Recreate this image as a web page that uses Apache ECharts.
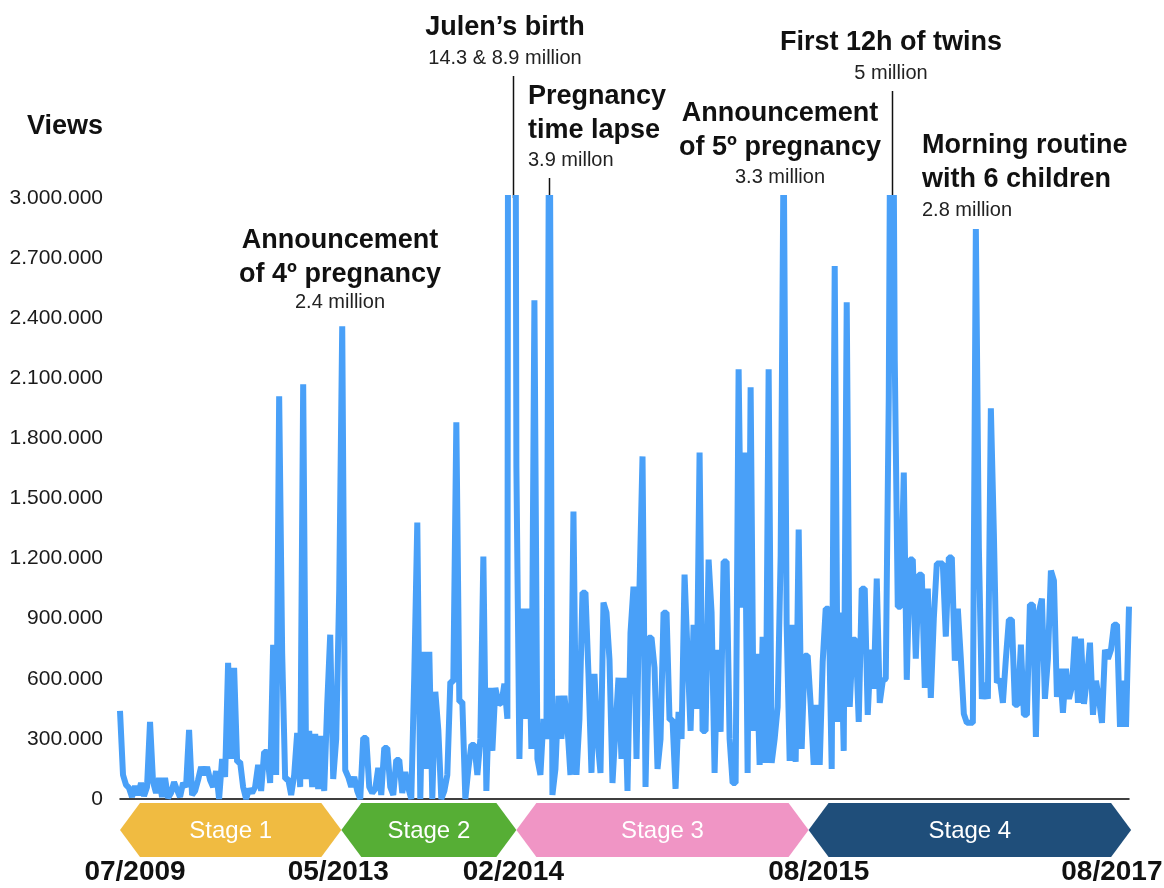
<!DOCTYPE html>
<html>
<head>
<meta charset="utf-8">
<script src="https://cdn.jsdelivr.net/npm/echarts@6/dist/echarts.min.js"></script>
<style>
html,body{margin:0;padding:0;background:#fff;}
#c{width:1164px;height:888px;}
</style>
</head>
<body>
<div id="c"></div>
<script>
// Views per video, in thousands (values above 3.000 are clipped at the chart top)
const viewsK = [
 440,120,70,55,10,65,20,80,15,60,
 385,85,30,105,10,105,5,30,85,45,
 10,80,60,345,20,40,95,160,120,160,
 95,60,140,0,200,110,680,200,655,185,
 185,60,0,50,30,60,170,40,235,235,
 80,770,120,2010,730,100,100,20,120,330,
 60,2070,100,340,60,325,50,315,40,470,
 820,100,300,1040,2360,145,110,60,110,40,
 0,305,305,60,30,50,155,20,255,255,
 60,20,195,195,30,135,55,0,620,1380,
 0,735,150,735,0,535,345,0,40,120,
 585,585,1880,485,485,0,150,270,270,120,
 300,1210,40,555,240,555,480,475,575,400,
 14300,8900,1660,200,950,400,950,250,2490,200,
 120,400,300,3900,20,150,515,300,515,360,
 120,1435,120,400,1030,1030,625,130,625,300,
 130,980,930,695,80,350,605,200,605,40,
 830,1060,200,1060,1710,60,805,805,655,150,
 300,930,930,395,395,50,435,300,1120,725,
 340,870,450,1730,340,340,1195,930,130,745,
 335,1185,1185,300,80,80,2145,955,1730,130,
 2055,340,725,170,810,180,2145,180,300,460,
 1215,3300,870,190,870,185,1345,250,715,715,
 470,170,470,170,685,950,950,150,2660,385,
 930,240,2480,460,795,795,385,1050,1050,420,
 745,550,1100,480,590,600,2000,5000,2185,960,
 960,1630,595,1195,1195,700,1120,1120,555,1050,
 505,900,1175,1175,1175,810,1205,1205,690,950,
 700,425,380,380,380,2845,1255,500,580,500,
 1950,1325,580,600,480,700,895,895,470,470,
 770,420,420,970,970,310,935,1000,500,700,
 1140,1090,510,650,430,650,500,560,810,480,
 800,475,600,780,420,590,500,380,745,700,
 745,870,870,360,590,360,960
];
const videoNo = viewsK.map((_, i) => String(i + 1));

const yMaxK = 3000;
const yStepK = 300;

// Stages (in video-index units)
const stageNames = ['Stage 1', 'Stage 2', 'Stage 3', 'Stage 4'];
const stageStart = [0, 73.7, 132, 229.3];
const stageEnd = [73.7, 132, 229.3, 336.7];
const stageColors = ['#f0bb41', '#56ae35', '#f095c5', '#1f4e7a'];

// Date labels under the stages
const dateLabels = ['07/2009', '05/2013', '02/2014', '08/2015', '08/2017'];
const dateIdx = [5, 72.7, 131, 232.7, 330.3];

// Annotations
const annTitles = [
  ['Announcement', 'of 4º pregnancy'],
  ['Julen’s birth'],
  ['Pregnancy', 'time lapse'],
  ['Announcement', 'of 5º pregnancy'],
  ['First 12h of twins'],
  ['Morning routine', 'with 6 children']
];
const annSubs = ['2.4 million', '14.3 & 8.9 million', '3.9 millon', '3.3 million', '5 million', '2.8 million'];
const leaderIdx = [null, 131, 143, null, 257, null];

const FONT = '"Liberation Sans", Arial, Helvetica, sans-serif';

function fmtK(v) {
  const n = Math.round(v * 1000);
  return String(n).replace(/\B(?=(\d{3})+(?!\d))/g, '.');
}

const chart = echarts.init(document.getElementById('c'), null, {renderer: 'canvas'});
chart.setOption({
  animation: false,
  backgroundColor: '#fff',
  grid: {left: 120, right: 35, top: 198, bottom: 89, containLabel: false},
  xAxis: {
    type: 'category',
    data: videoNo,
    boundaryGap: false,
    axisLine: {lineStyle: {color: '#000', width: 1.5}},
    axisTick: {show: false},
    axisLabel: {show: false},
    splitLine: {show: false}
  },
  yAxis: {
    type: 'value',
    min: 0,
    max: yMaxK,
    interval: yStepK,
    axisLine: {show: false},
    axisTick: {show: false},
    splitLine: {show: false},
    axisLabel: {
      formatter: fmtK,
      fontSize: 21,
      color: '#1a1a1a',
      margin: 17,
      fontFamily: FONT
    }
  },
  series: [{
    type: 'line',
    data: viewsK,
    symbol: 'none',
    clip: true,
    lineStyle: {color: '#49a0f8', width: 6, join: 'bevel'}
  }]
});

const N = viewsK.length;
const p0 = chart.convertToPixel({xAxisIndex: 0}, 0);
const p1 = chart.convertToPixel({xAxisIndex: 0}, N - 1);
const step = (p1 - p0) / (N - 1);
const ix = i => p0 + i * step;
const gridTop = chart.convertToPixel({yAxisIndex: 0}, yMaxK);

const g = [];
// Y axis title
g.push({type: 'text', style: {text: 'Views', x: 103, y: 127, font: 'bold 27px ' + FONT, fill: '#111', align: 'right', verticalAlign: 'middle'}});

// Stage chevrons
const yt = 803, yb = 857, ym = 830, d = 20;
stageNames.forEach((name, k) => {
  const x0 = ix(stageStart[k]), x1 = ix(stageEnd[k]);
  g.push({type: 'polygon', shape: {points: [[x0, ym], [x0 + d, yt], [x1 - d, yt], [x1, ym], [x1 - d, yb], [x0 + d, yb]]}, style: {fill: stageColors[k]}});
  g.push({type: 'text', style: {text: name, x: (x0 + x1) / 2, y: ym + 1, font: '24px ' + FONT, fill: '#fff', align: 'center', verticalAlign: 'middle'}});
});

// Date labels
dateLabels.forEach((t, k) => {
  g.push({type: 'text', style: {text: t, x: ix(dateIdx[k]), y: 872, font: 'bold 28px ' + FONT, fill: '#111', align: 'center', verticalAlign: 'middle'}});
});

// Annotation layout: [x, align, y of first title line, y of sub line]
const annPos = [
  [340, 'center', 241, 302],
  [505, 'center', 28, 58],
  [528, 'left', 97, 160],
  [780, 'center', 114, 177],
  [891, 'center', 43, 73],
  [922, 'left', 146, 210]
];
annTitles.forEach((lines, k) => {
  const [x, al, y0, ys] = annPos[k];
  lines.forEach((ln, j) => {
    g.push({type: 'text', style: {text: ln, x: x, y: y0 + j * 34, font: 'bold 27px ' + FONT, fill: '#111', align: al, verticalAlign: 'middle'}});
  });
  g.push({type: 'text', style: {text: annSubs[k], x: al === 'left' ? x : x, y: ys, font: '20px ' + FONT, fill: '#222', align: al, verticalAlign: 'middle'}});
  if (leaderIdx[k] !== null) {
    const lx = Math.round(ix(leaderIdx[k])) + 0.5;
    g.push({type: 'line', shape: {x1: lx, y1: ys + 18, x2: lx, y2: gridTop}, style: {stroke: '#111', lineWidth: 1.5}});
  }
});

chart.setOption({graphic: {elements: g}});
</script>
</body>
</html>
